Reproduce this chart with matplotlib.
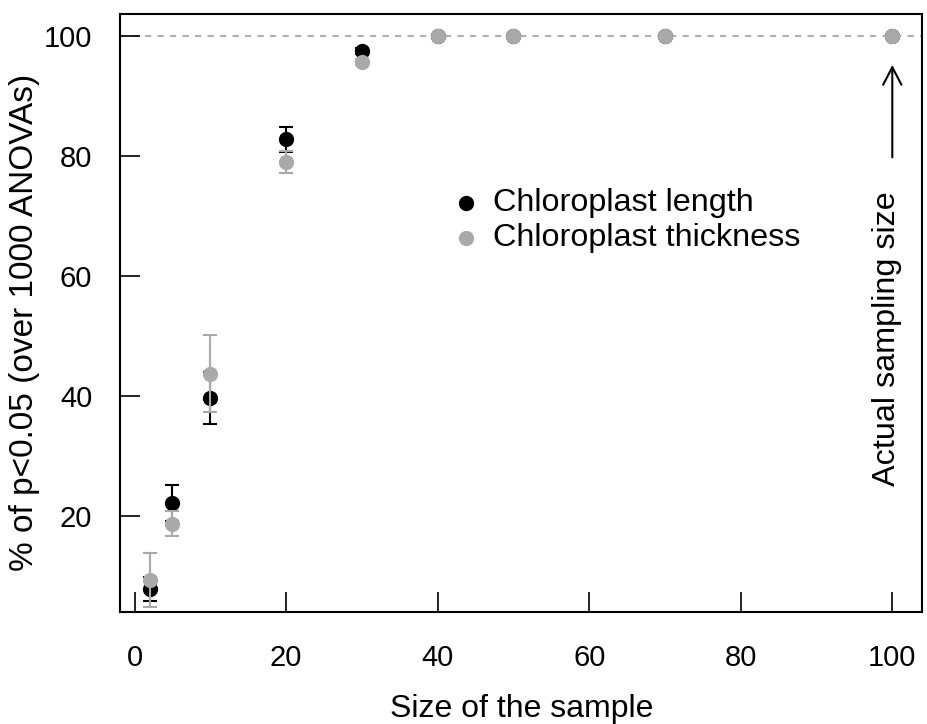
import matplotlib
matplotlib.use("Agg")
import matplotlib.pyplot as plt

plt.rcParams['font.family'] = ['Liberation Sans', 'DejaVu Sans']

sample_size = [2, 5, 10, 20, 30, 40, 50, 70, 100]
length_pct = [7.8, 22.2, 39.7, 82.8, 97.5, 100, 100, 100, 100]
length_err = [2.0, 3.0, 4.3, 2.1, 0.5, 0, 0, 0, 0]
thick_pct = [9.3, 18.7, 43.7, 79.0, 95.7, 100, 100, 100, 100]
thick_err = [4.5, 2.1, 6.4, 1.8, 0.5, 0, 0, 0, 0]
x_ticks = [0, 20, 40, 60, 80, 100]
y_ticks = [20, 40, 60, 80, 100]

black = '#000000'
gray = '#A9A9A9'

W, H = 927, 724
fig = plt.figure(figsize=(W / 100, H / 100), dpi=100)
ax = fig.add_axes([120 / W, 1 - 612 / H, 802 / W, 598 / H])

ax.axhline(100, color='#b0b0b0', lw=1.5, ls=(0, (3, 3)), zorder=1)

ax.plot(sample_size, length_pct, 'o', color=black, ms=11, mec='none', zorder=2)
ax.errorbar(sample_size, length_pct, yerr=length_err, fmt='none', ecolor=black,
            elinewidth=1.5, capsize=5, capthick=1.5, zorder=3)
ax.plot(sample_size, thick_pct, 'o', color=gray, ms=11, mec='none', zorder=4)
ax.errorbar(sample_size, thick_pct, yerr=thick_err, fmt='none', ecolor=gray,
            elinewidth=1.5, capsize=5, capthick=1.5, zorder=5)

ax.set_xlim(-1.92, 103.92)
ax.set_ylim(4.0, 103.7)
ax.set_xticks(x_ticks)
ax.set_yticks(y_ticks)
ax.tick_params(axis='both', direction='in', length=14.4, width=1.2, labelsize=21)
ax.tick_params(axis='x', pad=23)
ax.tick_params(axis='y', pad=20)
for s in ax.spines.values():
    s.set_linewidth(1.5)

fig.text(522 / W, 1 - 717 / H, 'Size of the sample', fontsize=23,
         ha='center', va='baseline')
fig.text(25 / W, 1 - 322 / H, '% of p<0.05 (over 1000 ANOVAs)', fontsize=24,
         rotation=90, ha='center', va='center')

# legend (no box)
ax.plot([43.8], [72.2], 'o', color=black, ms=11, mec='none')
ax.plot([43.8], [66.3], 'o', color=gray, ms=11, mec='none')
ax.text(47.3, 72.2, 'Chloroplast length', fontsize=23.3, va='center', ha='left')
ax.text(47.3, 66.3, 'Chloroplast thickness', fontsize=23.3, va='center', ha='left')

ax.annotate('', xy=(100, 95.2), xytext=(100, 79.8),
            arrowprops=dict(arrowstyle='->,head_length=0.42,head_width=0.22',
                            color='black', lw=1.5, mutation_scale=30,
                            shrinkA=0, shrinkB=0))
ax.text(99.3, 49.5, 'Actual sampling size', rotation=90, fontsize=23.3,
        va='center', ha='center')

fig.savefig('out.png', dpi=100)
